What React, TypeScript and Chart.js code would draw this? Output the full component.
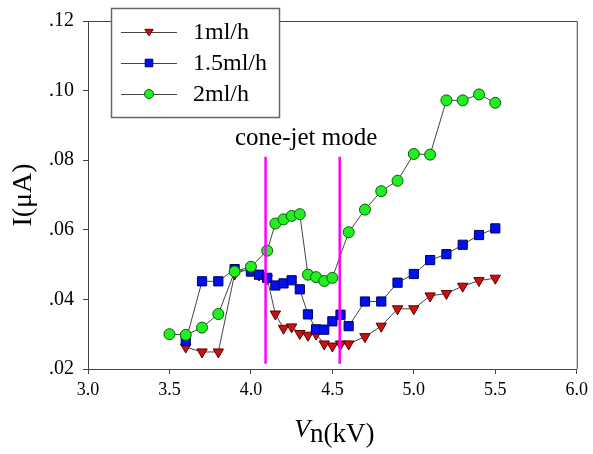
import { useEffect, useRef } from 'react';
import { Chart, registerables } from 'chart.js';
Chart.register(...registerables);

// ---- data ----
const voltage1 = [3.6, 3.7, 3.8, 3.9, 4.0, 4.05, 4.1, 4.15, 4.2, 4.25, 4.3, 4.35, 4.4, 4.45, 4.5, 4.55, 4.6, 4.7, 4.8, 4.9, 5.0, 5.1, 5.2, 5.3, 5.4, 5.5];
const current1 = [0.0263, 0.0249, 0.0249, 0.0473, 0.049, 0.047, 0.046, 0.0358, 0.0317, 0.0321, 0.0302, 0.0297, 0.0300, 0.0272, 0.0266, 0.0272, 0.0272, 0.0293, 0.0323, 0.0373, 0.0373, 0.041, 0.0417, 0.0438, 0.0454, 0.0461];

const voltage15 = [3.6, 3.7, 3.8, 3.9, 4.0, 4.05, 4.1, 4.15, 4.2, 4.25, 4.3, 4.35, 4.4, 4.45, 4.5, 4.55, 4.6, 4.7, 4.8, 4.9, 5.0, 5.1, 5.2, 5.3, 5.4, 5.5];
const current15 = [0.028, 0.0452, 0.0452, 0.0487, 0.048, 0.0471, 0.0462, 0.044, 0.0446, 0.0455, 0.0429, 0.0357, 0.0314, 0.0313, 0.0337, 0.0356, 0.0323, 0.0394, 0.0394, 0.0448, 0.0473, 0.0513, 0.053, 0.0557, 0.0585, 0.0604];

const voltage2 = [3.5, 3.6, 3.7, 3.8, 3.9, 4.0, 4.1, 4.15, 4.2, 4.25, 4.3, 4.35, 4.4, 4.45, 4.5, 4.6, 4.7, 4.8, 4.9, 5.0, 5.1, 5.2, 5.3, 5.4, 5.5];
const current2 = [0.030, 0.0298, 0.0319, 0.0358, 0.048, 0.0494, 0.054, 0.0618, 0.063, 0.064, 0.0645, 0.0471, 0.0464, 0.0453, 0.0462, 0.0593, 0.0658, 0.0711, 0.0741, 0.0818, 0.0816, 0.0972, 0.0972, 0.0989, 0.0965];

const seriesLabels = ['1ml/h', '1.5ml/h', '2ml/h'];
const coneJetBounds = [4.09, 4.545];
const coneJetRange = [0.0215, 0.081];
const coneJetLabel = 'cone-jet mode';
const coneJetLabelAt = [4.339, 0.0843];

const xTicksRange = [3.0, 6.0, 0.5];
const yTicksRange = [0.02, 0.12, 0.02];
const yTitle = 'I(μA)';
const xTitleMain = 'V';
const xTitleRest = 'n(kV)';

const FONT = 'Liberation Serif, Times New Roman, serif';

type Style = { shape: 'tri' | 'rect' | 'circle'; fill: string; stroke: string };
const styles: Style[] = [
  { shape: 'tri', fill: '#cc1010', stroke: '#5a0000' },
  { shape: 'rect', fill: '#0010f0', stroke: '#000060' },
  { shape: 'circle', fill: '#22ee22', stroke: '#006000' },
];

function drawMarker(ctx: CanvasRenderingContext2D, s: Style, x: number, y: number, r: number) {
  ctx.save();
  ctx.fillStyle = s.fill;
  ctx.strokeStyle = s.stroke;
  ctx.lineWidth = 1;
  ctx.beginPath();
  if (s.shape === 'circle') {
    ctx.arc(x, y, r, 0, Math.PI * 2);
  } else if (s.shape === 'rect') {
    ctx.rect(x - r, y - r, 2 * r, 2 * r);
  } else {
    ctx.moveTo(x - r * 1.1, y - r * 0.7);
    ctx.lineTo(x + r * 1.1, y - r * 0.7);
    ctx.lineTo(x, y + r * 1.0);
    ctx.closePath();
  }
  ctx.fill();
  ctx.stroke();
  ctx.restore();
}

const overlayPlugin = {
  id: 'overlay',
  afterDraw(chart: any) {
    const ctx: CanvasRenderingContext2D = chart.ctx;
    const { left, right, top, bottom } = chart.chartArea;
    const xs = chart.scales.x;
    const ys = chart.scales.y;
    ctx.save();
    // frame top & right
    ctx.strokeStyle = '#444';
    ctx.lineWidth = 1;
    ctx.beginPath();
    ctx.moveTo(left, top + 0.5);
    ctx.lineTo(right + 0.5, top + 0.5);
    ctx.lineTo(right + 0.5, bottom);
    ctx.stroke();

    // cone-jet label
    ctx.fillStyle = '#000';
    ctx.font = `25px ${FONT}`;
    ctx.textAlign = 'center';
    ctx.textBaseline = 'alphabetic';
    ctx.fillText(coneJetLabel, xs.getPixelForValue(coneJetLabelAt[0]), ys.getPixelForValue(coneJetLabelAt[1]));

    // y title
    ctx.save();
    ctx.translate(24, (top + bottom) / 2);
    ctx.rotate(-Math.PI / 2);
    ctx.font = `28px ${FONT}`;
    ctx.textAlign = 'center';
    ctx.textBaseline = 'middle';
    ctx.fillText(yTitle, 0, 0);
    ctx.restore();

    // x title
    ctx.textAlign = 'left';
    ctx.textBaseline = 'alphabetic';
    ctx.font = `italic 26px ${FONT}`;
    const w1 = ctx.measureText(xTitleMain).width;
    ctx.font = `27px ${FONT}`;
    const w2 = ctx.measureText(xTitleRest).width;
    const cx = (left + right) / 2 + 2;
    const sx = cx - (w1 + w2) / 2;
    ctx.font = `italic 26px ${FONT}`;
    ctx.fillText(xTitleMain, sx, 437);
    ctx.font = `27px ${FONT}`;
    ctx.fillText(xTitleRest, sx + w1, 442);

    // legend
    const bx = 111, by = 8, bw = 168, bh = 109;
    ctx.fillStyle = '#fff';
    ctx.fillRect(bx, by, bw, bh);
    ctx.strokeStyle = '#666';
    ctx.lineWidth = 1.5;
    ctx.strokeRect(bx + 0.5, by + 0.5, bw, bh);
    seriesLabels.forEach((lab, i) => {
      const yy = by + 24 + i * 31;
      ctx.strokeStyle = '#444';
      ctx.lineWidth = 1;
      ctx.beginPath();
      ctx.moveTo(bx + 10, yy + 0.5);
      ctx.lineTo(bx + 66, yy + 0.5);
      ctx.stroke();
      drawMarker(ctx, styles[i], bx + 38, yy, styles[i].shape === 'circle' ? 4.5 : 3.8);
      ctx.fillStyle = '#000';
      ctx.font = `24px ${FONT}`;
      ctx.textBaseline = 'middle';
      ctx.fillText(lab, bx + 82, yy + 1);
    });
    ctx.restore();
  },
};

function toPoints(xs: number[], ys: number[]) {
  return xs.map((x, i) => ({ x, y: ys[i] }));
}

export default function App() {
  const ref = useRef<HTMLCanvasElement>(null);
  useEffect(() => {
    document.body.style.margin = '0';
    const ctx = ref.current!;
    const pointStyleFor = (s: Style) => (s.shape === 'circle' ? 'circle' : s.shape === 'rect' ? 'rect' : 'triangle');
    const seriesData = [toPoints(voltage1, current1), toPoints(voltage15, current15), toPoints(voltage2, current2)];
    const datasets: any[] = seriesData.map((d, i) => ({
      label: seriesLabels[i],
      data: d,
      showLine: true,
      borderColor: '#444',
      borderWidth: 1,
      pointStyle: pointStyleFor(styles[i]),
      pointRotation: styles[i].shape === 'tri' ? 180 : 0,
      pointRadius: styles[i].shape === 'circle' ? 5.5 : styles[i].shape === 'rect' ? 6.5 : 6,
      pointBackgroundColor: styles[i].fill,
      pointBorderColor: styles[i].stroke,
      pointBorderWidth: 1,
      order: 3 - i,
    }));
    coneJetBounds.forEach((b) => {
      datasets.push({
        label: 'bound',
        data: [{ x: b, y: coneJetRange[0] }, { x: b, y: coneJetRange[1] }],
        showLine: true,
        borderColor: '#ff00ff',
        borderWidth: 2.5,
        pointRadius: 0,
        order: 0,
      });
    });
    const chart = new Chart(ctx, {
      type: 'scatter',
      data: { datasets },
      options: {
        animation: false,
        responsive: false,
        events: [],
        layout: { padding: { left: 0, right: 12, top: 13, bottom: 0 } },
        plugins: { legend: { display: false }, tooltip: { enabled: false } },
        scales: {
          x: {
            type: 'linear',
            min: xTicksRange[0],
            max: xTicksRange[1],
            afterFit: (s: any) => { s.height = 85; },
            ticks: {
              stepSize: xTicksRange[2],
              autoSkip: false,
              maxRotation: 0,
              padding: 5,
              color: '#000',
              font: { family: FONT, size: 18 },
              callback: (v: any) => Number(v).toFixed(1),
            },
            grid: { drawOnChartArea: false, drawTicks: true, tickLength: 5, color: '#444' },
            border: { display: true, color: '#444', width: 1 },
          },
          y: {
            type: 'linear',
            min: yTicksRange[0],
            max: yTicksRange[1],
            afterFit: (s: any) => { s.width = 88; },
            ticks: {
              stepSize: yTicksRange[2],
              autoSkip: false,
              padding: 9,
              color: '#000',
              font: { family: FONT, size: 20 },
              callback: (v: any) => Number(v).toFixed(2).replace(/^0/, ''),
            },
            grid: { drawOnChartArea: false, drawTicks: true, tickLength: 5, color: '#444' },
            border: { display: true, color: '#444', width: 1 },
          },
        },
      },
      plugins: [overlayPlugin],
    });
    return () => chart.destroy();
  }, []);
  return (
    <canvas
      ref={ref}
      width={593}
      height={454}
      style={{ position: 'fixed', left: 0, top: 0, width: 593, height: 454, display: 'block', background: '#fff' }}
    />
  );
}
